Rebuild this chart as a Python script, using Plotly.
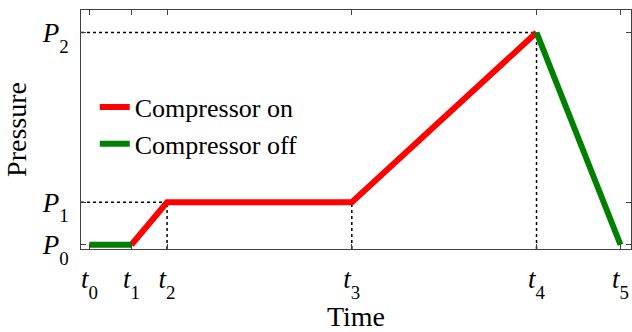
import plotly.graph_objects as go

# Time instants t0..t5 and pressure levels P0..P2
t_vals = [0.2, 1.2, 2.05, 6.45, 10.85, 12.85]
t_labels = ["t0", "t1", "t2", "t3", "t4", "t5"]
p_vals = [0.0, 1.0, 5.0]
p_labels = ["P0", "P1", "P2"]

# Compressor cycle as (time index, pressure index) pairs
on_path = [(1, 0), (2, 1), (3, 1), (4, 2)]
off_paths = [[(0, 0), (1, 0)], [(4, 2), (5, 0)]]

x_range = [0.0, 13.1]
y_range = [-0.1, 5.53]

FONT = "Liberation Serif, Times New Roman, serif"
RED = "#ff0000"
GREEN = "#008000"


def sub_label(s):
    # italic symbol with a lowered subscript index
    return (f"<i>{s[0]}</i><sub><span style='baseline-shift:-0.28em'>"
            f"{s[1:]}</span></sub>")


fig = go.Figure()

# dotted guide lines from axes to the key points
guides = [
    ([x_range[0], t_vals[2]], [p_vals[1], p_vals[1]]),
    ([t_vals[2], t_vals[2]], [y_range[0], p_vals[1]]),
    ([t_vals[3], t_vals[3]], [y_range[0], p_vals[1]]),
    ([x_range[0], t_vals[4]], [p_vals[2], p_vals[2]]),
    ([t_vals[4], t_vals[4]], [y_range[0], p_vals[2]]),
]
for gx, gy in guides:
    fig.add_trace(go.Scatter(x=gx, y=gy, mode="lines", showlegend=False,
                             hoverinfo="skip",
                             line=dict(color="black", width=1.5, dash="dot")))

fig.add_trace(go.Scatter(
    x=[t_vals[i] for i, _ in on_path], y=[p_vals[j] for _, j in on_path],
    mode="lines", name="Compressor on", line=dict(color=RED, width=6)))

for k, path in enumerate(off_paths):
    fig.add_trace(go.Scatter(
        x=[t_vals[i] for i, _ in path], y=[p_vals[j] for _, j in path],
        mode="lines", name="Compressor off", showlegend=(k == 0),
        line=dict(color=GREEN, width=6)))

axis_common = dict(
    showgrid=False, zeroline=False, showline=True, linecolor="#404040",
    linewidth=1, mirror="ticks", ticks="inside", ticklen=5,
    tickcolor="#404040", tickfont=dict(family=FONT, size=27, color="black"),
    automargin=False,
)

fig.update_xaxes(range=x_range, tickvals=t_vals,
                 ticktext=[sub_label(s) for s in t_labels],
                 ticklabelstandoff=6,
                 title=dict(text="Time", font=dict(family=FONT, size=28, color="black"),
                            standoff=4),
                 **axis_common)
fig.update_yaxes(range=y_range, tickvals=p_vals,
                 ticktext=[sub_label(s) for s in p_labels],
                 ticklabelstandoff=6,
                 title=dict(text="Pressure", font=dict(family=FONT, size=28, color="black"),
                            standoff=6),
                 **axis_common)

fig.update_layout(
    width=632, height=332,
    margin=dict(l=81, r=1, t=10, b=83),
    paper_bgcolor="white", plot_bgcolor="white",
    font=dict(family=FONT, color="black"),
    legend=dict(x=0.025, y=0.692, xanchor="left", yanchor="top",
                bgcolor="rgba(0,0,0,0)", borderwidth=0,
                font=dict(family=FONT, size=26, color="black"),
                itemwidth=30, tracegroupgap=0),
)

fig.write_html("out.html")
